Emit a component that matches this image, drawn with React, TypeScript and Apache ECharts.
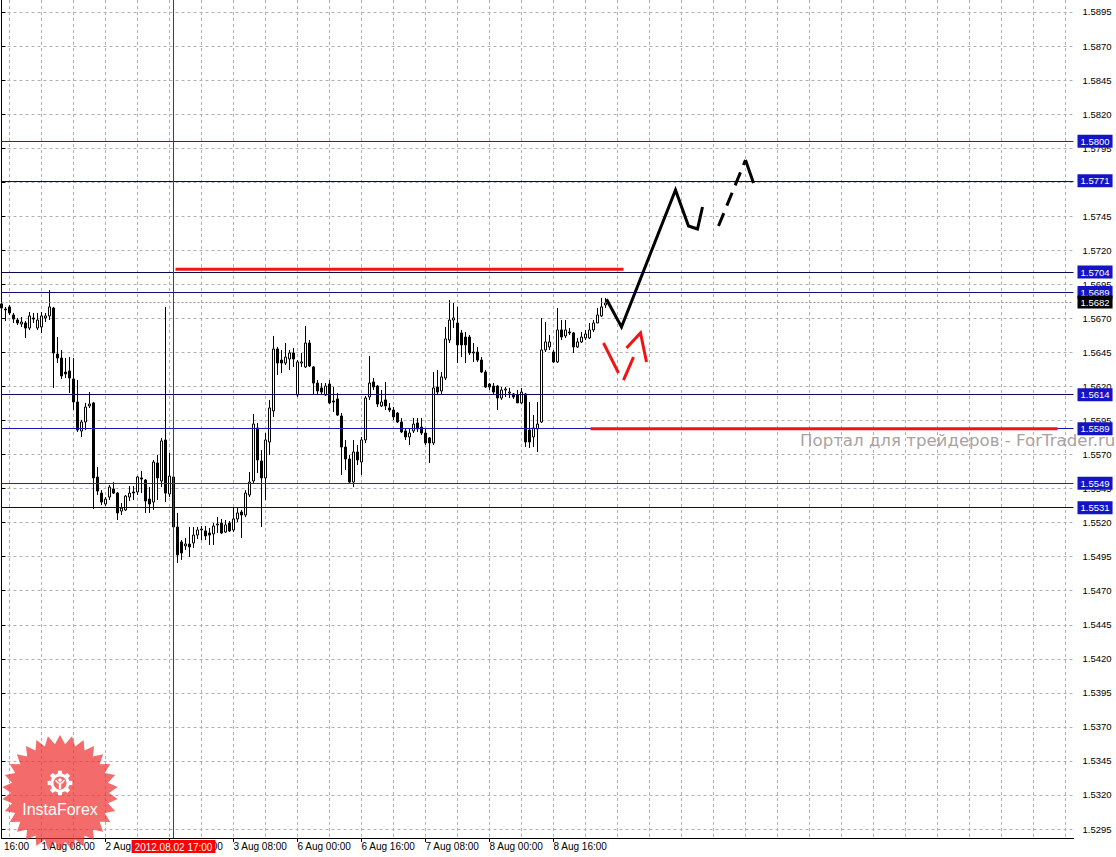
import React, { useEffect, useRef } from 'react';
import * as echarts from 'echarts';

// ---------- data ----------
const FIRST_BAR = '2012-07-31T22:00:00Z';
const BAR_SLOTS = 269; // hourly slots on the axis (candles + empty future space)

const OPEN = [
  1.56806, 1.56769, 1.56784, 1.56725, 1.56688, 1.56659, 1.56666, 1.56629, 1.56703, 1.56629,
  1.56637, 1.56703, 1.56718, 1.56776, 1.56438, 1.56409, 1.56306, 1.56314, 1.56255, 1.56086,
  1.55873, 1.55939, 1.56057, 1.56079, 1.55535, 1.55417, 1.55337, 1.55388, 1.55447, 1.55417,
  1.55285, 1.55293, 1.55388, 1.55425, 1.55425, 1.55528, 1.55513, 1.55373, 1.55351, 1.55638,
  1.55506, 1.55807, 1.55410, 1.55535, 1.55168, 1.55058, 1.55029, 1.55043, 1.55051, 1.55109,
  1.55146, 1.55139, 1.55124, 1.55117, 1.55183, 1.55197, 1.55131, 1.55197, 1.55146, 1.55227,
  1.55278, 1.55256, 1.55403, 1.55506, 1.55895, 1.55653, 1.55528, 1.55792, 1.56020, 1.56475,
  1.56394, 1.56372, 1.56402, 1.56446, 1.56137, 1.56372, 1.56343, 1.56519, 1.56343, 1.56225,
  1.56189, 1.56137, 1.56218, 1.56093, 1.56108, 1.55983, 1.55755, 1.55667, 1.55498, 1.55719,
  1.55645, 1.55807, 1.56123, 1.56233, 1.56203, 1.56057, 1.56101, 1.56042, 1.56027, 1.56005,
  1.55939, 1.55873, 1.55829, 1.55873, 1.55932, 1.55902, 1.55858, 1.55822, 1.55785, 1.56196,
  1.56167, 1.56262, 1.56541, 1.56688, 1.56666, 1.56593, 1.56563, 1.56563, 1.56446, 1.56453,
  1.56394, 1.56306, 1.56218, 1.56203, 1.56203, 1.56115, 1.56174, 1.56152, 1.56145, 1.56137,
  1.56079, 1.56145, 1.55880, 1.55829, 1.55888, 1.55939, 1.56468, 1.56490, 1.56453, 1.56380,
  1.56615, 1.56571, 1.56600, 1.56593, 1.56490, 1.56527, 1.56556, 1.56556, 1.56615, 1.56666,
  1.56718, 1.56798,
];
const CLOSE = [
  1.56776, 1.56762, 1.56740, 1.56695, 1.56666, 1.56673, 1.56629, 1.56718, 1.56695, 1.56688,
  1.56718, 1.56718, 1.56784, 1.56446, 1.56409, 1.56277, 1.56292, 1.56262, 1.56086, 1.55880,
  1.55939, 1.56049, 1.56071, 1.55528, 1.55432, 1.55351, 1.55373, 1.55461, 1.55417, 1.55271,
  1.55307, 1.55395, 1.55417, 1.55417, 1.55535, 1.55520, 1.55359, 1.55337, 1.55645, 1.55528,
  1.55800, 1.55417, 1.55542, 1.55168, 1.54963, 1.54977, 1.55043, 1.55021, 1.55109, 1.55146,
  1.55153, 1.55102, 1.55109, 1.55175, 1.55190, 1.55124, 1.55183, 1.55139, 1.55227, 1.55271,
  1.55256, 1.55417, 1.55498, 1.55924, 1.55660, 1.55528, 1.55807, 1.56042, 1.56475, 1.56372,
  1.56372, 1.56416, 1.56446, 1.56402, 1.56380, 1.56380, 1.56519, 1.56350, 1.56225, 1.56167,
  1.56159, 1.56203, 1.56079, 1.56086, 1.55990, 1.55755, 1.55667, 1.55498, 1.55719, 1.55660,
  1.55807, 1.56115, 1.56225, 1.56196, 1.56071, 1.56086, 1.56057, 1.56027, 1.55976, 1.55939,
  1.55866, 1.55829, 1.55858, 1.55924, 1.55888, 1.55858, 1.55785, 1.55785, 1.56189, 1.56159,
  1.56270, 1.56549, 1.56688, 1.56703, 1.56505, 1.56505, 1.56505, 1.56446, 1.56453, 1.56394,
  1.56306, 1.56196, 1.56196, 1.56159, 1.56115, 1.56174, 1.56181, 1.56159, 1.56123, 1.56079,
  1.56159, 1.55792, 1.55792, 1.55895, 1.55924, 1.56468, 1.56527, 1.56527, 1.56380, 1.56615,
  1.56563, 1.56615, 1.56593, 1.56490, 1.56527, 1.56563, 1.56585, 1.56615, 1.56666, 1.56725,
  1.56784, 1.56813,
];
const LOW = [
  1.56747, 1.56681, 1.56725, 1.56666, 1.56651, 1.56637, 1.56556, 1.56615, 1.56666, 1.56615,
  1.56593, 1.56673, 1.56688, 1.56189, 1.56372, 1.56255, 1.56262, 1.56152, 1.56027, 1.55866,
  1.55829, 1.55880, 1.56042, 1.55300, 1.55403, 1.55329, 1.55322, 1.55366, 1.55410, 1.55219,
  1.55256, 1.55285, 1.55359, 1.55366, 1.55403, 1.55417, 1.55271, 1.55271, 1.55293, 1.55366,
  1.55461, 1.55351, 1.55388, 1.55146, 1.54904, 1.54926, 1.54999, 1.54948, 1.55014, 1.55080,
  1.55072, 1.55072, 1.55036, 1.55036, 1.55124, 1.55117, 1.55124, 1.55131, 1.55131, 1.55205,
  1.55087, 1.55241, 1.55388, 1.55491, 1.55564, 1.55168, 1.55366, 1.55697, 1.55976, 1.56284,
  1.56299, 1.56358, 1.56321, 1.56343, 1.56123, 1.56343, 1.56336, 1.56343, 1.56137, 1.56137,
  1.56137, 1.56130, 1.56071, 1.56012, 1.55983, 1.55550, 1.55587, 1.55491, 1.55461, 1.55623,
  1.55550, 1.55785, 1.56101, 1.56174, 1.56049, 1.56049, 1.56027, 1.56012, 1.55954, 1.55932,
  1.55858, 1.55807, 1.55770, 1.55858, 1.55866, 1.55844, 1.55770, 1.55638, 1.55770, 1.56137,
  1.56137, 1.56247, 1.56519, 1.56629, 1.56372, 1.56416, 1.56372, 1.56431, 1.56380, 1.56380,
  1.56299, 1.56189, 1.56174, 1.56137, 1.56027, 1.56101, 1.56123, 1.56115, 1.56108, 1.56079,
  1.56071, 1.55755, 1.55748, 1.55755, 1.55719, 1.55932, 1.56453, 1.56468, 1.56372, 1.56372,
  1.56541, 1.56556, 1.56578, 1.56446, 1.56482, 1.56519, 1.56541, 1.56549, 1.56600, 1.56666,
  1.56710, 1.56776,
];
const HIGH = [
  1.56820, 1.56784, 1.56798, 1.56740, 1.56703, 1.56710, 1.56681, 1.56747, 1.56740, 1.56740,
  1.56747, 1.56740, 1.56908, 1.56784, 1.56563, 1.56468, 1.56409, 1.56416, 1.56409, 1.56247,
  1.55954, 1.56079, 1.56159, 1.56086, 1.55608, 1.55439, 1.55388, 1.55476, 1.55498, 1.55425,
  1.55344, 1.55403, 1.55469, 1.55469, 1.55542, 1.55579, 1.55520, 1.55461, 1.55660, 1.55697,
  1.55822, 1.56784, 1.55711, 1.55608, 1.55271, 1.55072, 1.55087, 1.55168, 1.55168, 1.55168,
  1.55175, 1.55175, 1.55161, 1.55197, 1.55241, 1.55227, 1.55219, 1.55212, 1.55307, 1.55307,
  1.55293, 1.55439, 1.55572, 1.55998, 1.55932, 1.55733, 1.55858, 1.56101, 1.56571, 1.56490,
  1.56468, 1.56519, 1.56468, 1.56482, 1.56394, 1.56446, 1.56644, 1.56541, 1.56350, 1.56247,
  1.56225, 1.56225, 1.56247, 1.56196, 1.56152, 1.56005, 1.55807, 1.55697, 1.55807, 1.55770,
  1.55829, 1.56130, 1.56424, 1.56262, 1.56211, 1.56174, 1.56233, 1.56079, 1.56049, 1.56012,
  1.55968, 1.55895, 1.55895, 1.55968, 1.55968, 1.55968, 1.55895, 1.55829, 1.56306, 1.56321,
  1.56306, 1.56637, 1.56835, 1.56813, 1.56784, 1.56615, 1.56600, 1.56578, 1.56519, 1.56490,
  1.56416, 1.56321, 1.56225, 1.56225, 1.56211, 1.56196, 1.56196, 1.56189, 1.56152, 1.56174,
  1.56189, 1.56152, 1.56086, 1.55990, 1.56086, 1.56703, 1.56673, 1.56578, 1.56468, 1.56776,
  1.56688, 1.56688, 1.56629, 1.56600, 1.56556, 1.56600, 1.56615, 1.56666, 1.56688, 1.56776,
  1.56850, 1.56850,
];

const Y_MIN = 1.52884;
const Y_MAX = 1.59038;
const Y_TICKS = [
  1.5295, 1.5320, 1.5345, 1.5370, 1.5395, 1.5420, 1.5445, 1.5470, 1.5495, 1.5520,
  1.5545, 1.5570, 1.5595, 1.5620, 1.5645, 1.5670, 1.5695, 1.5720, 1.5745, 1.5770,
  1.5795, 1.5820, 1.5845, 1.5870, 1.5895,
];

const X_LABELS: Record<string, string> = {
  '2012.08.01 08:00': '1 Aug 08:00',
  '2012.08.02 00:00': '2 Aug 00:00',
  '2012.08.02 16:00': '2 Aug 16:00',
  '2012.08.03 08:00': '3 Aug 08:00',
  '2012.08.06 00:00': '6 Aug 00:00',
  '2012.08.06 16:00': '6 Aug 16:00',
  '2012.08.07 08:00': '7 Aug 08:00',
  '2012.08.08 00:00': '8 Aug 00:00',
  '2012.08.08 16:00': '8 Aug 16:00',
};
const CLIPPED_FIRST_LABEL = '16:00';
const CROSS_TIME = '2012.08.02 17:00';

const LEVELS = [1.5800, 1.5771, 1.5704, 1.5689, 1.5614, 1.5589, 1.5549, 1.5531];
const LEVEL_COLORS = ['#2020d0', '#0a0a50', '#0a0a50', '#10107a', '#0a0a60', '#1818b0', '#2020d0', '#0a0a50'];
const BID = 1.5682;

// annotation drawings, in [bar index, price]
const RESIST_SEG = [[43.5, 1.5706], [155.5, 1.5706]];
const SUPPORT_SEG = [[147.25, 1.5589], [264, 1.5589]];
const BULL_PATH = [[151.25, 1.5684], [155, 1.56637], [168.5, 1.57643], [171.75, 1.57378], [174, 1.57356], [175.25, 1.57518]];
const BULL_DASH = [[179.25, 1.57378], [186, 1.57863]];
const BULL_HEAD = [[186, 1.57863], [188, 1.57694]];
const BEAR_1 = [[150.5, 1.56519], [154.25, 1.56299]];
const BEAR_2 = [[155.5, 1.56247], [158, 1.56416]];
const BEAR_HEAD = [[156.25, 1.56482], [159.75, 1.56593], [161.25, 1.5638]];

// ---------- helpers ----------
function pad(n: number) {
  return n < 10 ? '0' + n : '' + n;
}
function buildTimes(): string[] {
  const out: string[] = [];
  let t = Date.parse(FIRST_BAR);
  for (let i = 0; i < BAR_SLOTS; i++) {
    const d = new Date(t);
    out.push(`${d.getUTCFullYear()}.${pad(d.getUTCMonth() + 1)}.${pad(d.getUTCDate())} ${pad(d.getUTCHours())}:00`);
    t += 3600000;
    if (new Date(t).getUTCDay() === 6) t += 2 * 86400000;
  }
  return out;
}

const GRID_COLOR = '#b6acb6';
const FONT = 'Liberation Sans, Arial, sans-serif';

function buildOption() {
  const times = buildTimes();
  const candles = OPEN.map((o, i) => [o, CLOSE[i], LOW[i], HIGH[i]]);
  const isLabel = (_i: number, v: string) => X_LABELS[v] !== undefined;
  const crossIndex = times.indexOf(CROSS_TIME);

  // InstaForex badge geometry
  const cx = 60, cy = 793;
  const star: number[][] = [];
  const N = 30;
  for (let i = 0; i < 2 * N; i++) {
    const r = i % 2 === 0 ? 58 : 49;
    const a = -Math.PI / 2 + (i * Math.PI) / N;
    star.push([cx + r * Math.cos(a), cy + r * Math.sin(a)]);
  }
  const gx = 60, gy = 783;
  const gear: number[][] = [];
  for (let t = 0; t < 8; t++) {
    const a = (t * Math.PI) / 4;
    const d = Math.PI / 180;
    gear.push([gx + 9.5 * Math.cos(a - 14 * d), gy + 9.5 * Math.sin(a - 14 * d)]);
    gear.push([gx + 12.5 * Math.cos(a - 9 * d), gy + 12.5 * Math.sin(a - 9 * d)]);
    gear.push([gx + 12.5 * Math.cos(a + 9 * d), gy + 12.5 * Math.sin(a + 9 * d)]);
    gear.push([gx + 9.5 * Math.cos(a + 14 * d), gy + 9.5 * Math.sin(a + 14 * d)]);
  }

  const boxLabel = (text: string, bg: string) => ({
    show: true, position: 'end', formatter: text, color: '#fff',
    backgroundColor: bg, padding: [2, 3, 1, 3], fontSize: 9.5, fontFamily: FONT, distance: 4,
  });
  const levelLines = LEVELS.map((lv, i) => ({
    yAxis: lv,
    lineStyle: { color: LEVEL_COLORS[i], width: 1, type: 'solid' },
    label: boxLabel(lv.toFixed(4), '#1414c4'),
  }));
  const bidLine = {
    yAxis: BID,
    lineStyle: { color: '#9a9a9a', width: 1, type: [2, 2] },
    label: boxLabel(BID.toFixed(4), '#000000'),
  };
  const crossLine = {
    xAxis: crossIndex,
    lineStyle: { color: '#e00000', width: 1, type: 'solid' },
    label: {
      show: true, position: 'start', formatter: CROSS_TIME, color: '#fff',
      backgroundColor: '#ff0000', padding: [2, 3, 1, 3], fontSize: 10, fontFamily: FONT, distance: 2,
    },
  };

  const linesSeries = (data: number[][][], color: string, width: number, type: any) => ({
    type: 'lines',
    coordinateSystem: 'cartesian2d',
    xAxisIndex: 1,
    yAxisIndex: 0,
    polyline: true,
    silent: true,
    z: 8,
    lineStyle: { color, width, type, opacity: 1 },
    data: data.map((c) => ({ coords: c })),
  });

  return {
    animation: false,
    backgroundColor: '#ffffff',
    textStyle: { fontFamily: FONT },
    grid: { left: 1.5, right: 42.5, top: 0, bottom: 19, containLabel: false, outerBoundsMode: 'none' },
    xAxis: [
      {
        type: 'category',
        data: times,
        boundaryGap: false,
        position: 'bottom',
        axisLine: { show: true, onZero: false, lineStyle: { color: '#000', width: 1 } },
        axisTick: { show: true, length: 4, interval: isLabel, lineStyle: { color: '#000' } },
        axisLabel: {
          show: true, interval: isLabel, formatter: (v: string) => X_LABELS[v] || '',
          align: 'left', margin: 3, fontSize: 10, color: '#000', fontFamily: FONT,
        },
        splitLine: { show: true, interval: (i: number) => i % 8 === 2, lineStyle: { color: GRID_COLOR, type: [3, 3], width: 1 } },
      },
      { type: 'value', min: 0, max: BAR_SLOTS - 1, show: false },
    ],
    yAxis: {
      type: 'value',
      position: 'right',
      offset: 3,
      min: Y_MIN,
      max: Y_MAX,
      axisLine: { show: true, lineStyle: { color: '#000', width: 1 } },
      axisTick: { show: true, length: 4, customValues: Y_TICKS, lineStyle: { color: '#000' } },
      axisLabel: {
        customValues: Y_TICKS, formatter: (v: number) => v.toFixed(4),
        margin: 6, fontSize: 9.5, color: '#000', fontFamily: FONT,
      },
      splitLine: { show: true, lineStyle: { color: GRID_COLOR, type: [3, 3], width: 1 } },
    },
    series: [
      {
        type: 'line',
        xAxisIndex: 1,
        yAxisIndex: 0,
        data: [],
        silent: true,
        z: 3,
        markLine: {
          silent: true,
          z: 5,
          symbol: ['none', 'none'],
          animation: false,
          precision: 4,
          emphasis: { disabled: true },
          data: [...levelLines, bidLine, crossLine],
        },
      },
      {
        type: 'candlestick',
        xAxisIndex: 0,
        yAxisIndex: 0,
        data: candles,
        barWidth: 2,
        z: 2,
        itemStyle: {
          color: '#ffffff', color0: '#000000', borderColor: '#000000', borderColor0: '#000000',
          borderColorDoji: '#000000', borderWidth: 1,
        },
      },
      linesSeries([RESIST_SEG, SUPPORT_SEG, BEAR_1, BEAR_2, BEAR_HEAD], '#f01414', 3, 'solid'),
      linesSeries([BULL_PATH, BULL_HEAD], '#000000', 3, 'solid'),
      linesSeries([BULL_DASH], '#000000', 3, [14, 8]),
    ],
    graphic: [
      {
        type: 'text', x: 800, y: 440, z: 1, silent: true,
        style: {
          text: 'Портал для трейдеров - ForTrader.ru', fill: '#aaa2a2', fontSize: 16.6,
          fontFamily: 'DejaVu Sans, Verdana, sans-serif', textAlign: 'left', textVerticalAlign: 'middle',
        },
      },
      {
        type: 'text', x: 4, y: 846, z: 1, silent: true,
        style: {
          text: CLIPPED_FIRST_LABEL, fill: '#000', fontSize: 10, fontFamily: FONT,
          textAlign: 'left', textVerticalAlign: 'middle',
        },
      },
      {
        type: 'group', z: 100, silent: true,
        children: [
          { type: 'polygon', z: 100, shape: { points: star }, style: { fill: 'rgba(238,44,44,0.7)' } },
          { type: 'polygon', z: 101, shape: { points: gear }, style: { fill: '#ffffff' } },
          { type: 'circle', z: 102, shape: { cx: gx, cy: gy, r: 6.5 }, style: { fill: '#f26a6a' } },
          { type: 'circle', z: 103, shape: { cx: gx, cy: gy - 3, r: 1.8 }, style: { fill: '#ffffff' } },
          { type: 'rect', z: 103, shape: { x: gx - 1.2, y: gy - 0.5, width: 2.4, height: 6.5 }, style: { fill: '#ffffff' } },
          { type: 'line', z: 103, shape: { x1: gx - 4.5, y1: gy - 3, x2: gx - 1.5, y2: gy + 0.5 }, style: { stroke: '#ffffff', lineWidth: 1.6 } },
          { type: 'line', z: 103, shape: { x1: gx + 4.5, y1: gy - 3, x2: gx + 1.5, y2: gy + 0.5 }, style: { stroke: '#ffffff', lineWidth: 1.6 } },
          {
            type: 'text', z: 104, x: 60, y: 809,
            style: {
              text: 'InstaForex', fill: '#ffffff', fontSize: 16, fontFamily: FONT,
              textAlign: 'center', textVerticalAlign: 'middle',
            },
          },
        ],
      },
    ],
  };
}

export default function App() {
  const ref = useRef<HTMLDivElement>(null);
  useEffect(() => {
    if (!ref.current) return;
    const chart = echarts.init(ref.current, null, { renderer: 'svg' });
    chart.setOption(buildOption() as any);
    return () => chart.dispose();
  }, []);
  return (
    <div
      ref={ref}
      style={{ position: 'fixed', left: 0, top: 0, width: 1116, height: 857, background: '#ffffff' }}
    />
  );
}
